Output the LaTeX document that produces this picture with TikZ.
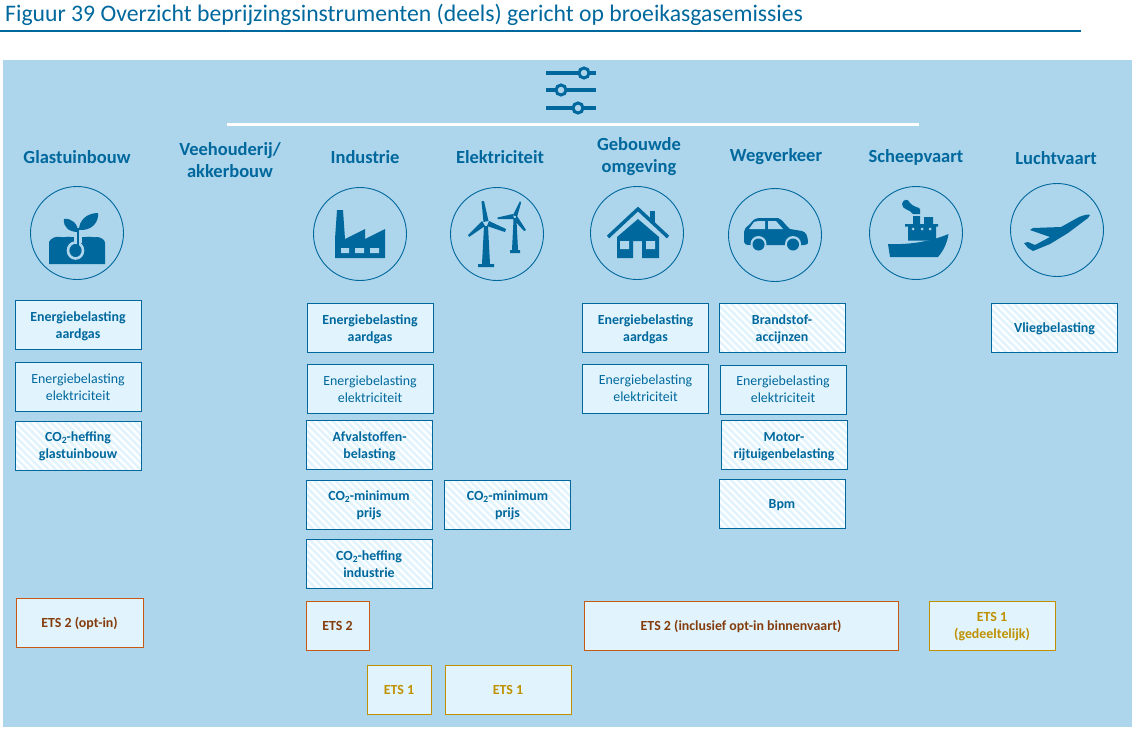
\documentclass[tikz,border=0pt]{standalone}
\usepackage{fontspec}
\setmainfont{Carlito}
\usetikzlibrary{patterns.meta}
\definecolor{PanelBlue}{RGB}{173, 213, 235}
\definecolor{DeepBlue}{RGB}{0, 104, 157}
\definecolor{PaleBlue}{RGB}{225, 244, 253}
\definecolor{RustLine}{RGB}{197, 90, 17}
\definecolor{RustText}{RGB}{132, 60, 12}
\definecolor{GoldLine}{RGB}{191, 144, 0}
\newcommand{\cotwo}{CO\raisebox{-0.3ex}{\fontsize{9.5}{9.5}\selectfont 2}}
\tikzset{
    every path/.style={line join=miter},
    sector/.style={text=DeepBlue, font=\bfseries\fontsize{18.5}{22.5}\selectfont, align=center},
    ring/.style={circle, draw=DeepBlue, line width=0.9pt, minimum size=93pt, inner sep=0pt},
    icon/.style={fill=DeepBlue, draw=none},
    gap/.style={fill=PanelBlue, draw=none},
    plainbox/.style={draw=DeepBlue, line width=0.9pt, fill=PaleBlue, text=DeepBlue, align=center, inner sep=0pt, minimum width=126pt, minimum height=49pt, text depth=-1pt, font=\bfseries\fontsize{13.9}{17}\selectfont},
    lightbox/.style={plainbox, font=\fontsize{13.9}{17}\selectfont},
    hatchbox/.style={plainbox, fill=none, preaction={fill=white}, pattern={Lines[angle=-45, distance=5pt, line width=2.6pt]}, pattern color=PaleBlue},
    rustbox/.style={plainbox, draw=RustLine, text=RustText},
    goldbox/.style={plainbox, draw=GoldLine, text=GoldLine}
}
\begin{document}
\begin{tikzpicture}[x=1pt, y=-1pt]
    \useasboundingbox (0,0) rectangle (1132,732);
    % heading
    \node [anchor=west, inner sep=0pt, text=DeepBlue, font=\fontsize{23.7}{27}\selectfont] (title) at (5,15) {Figuur 39 Overzicht beprijzingsinstrumenten (deels) gericht op broeikasgasemissies};
    \draw [DeepBlue, line width=2pt] (0,31) -- (1081,31);
    \fill [PanelBlue] (3,60) rectangle (1132,727);

    % sliders
    \draw [DeepBlue, line width=3.5pt] (546,73) -- (596,73) (546,90) -- (596,90) (546,108) -- (596,108);
    \draw [DeepBlue, line width=3pt, fill=PanelBlue] (584,73) circle (5pt) (561,90) circle (5pt) (578,108) circle (5pt);
    \draw [white, line width=2.5pt] (227,124.5) -- (919,124.5);

    % sector names
    \node [sector] (glas) at (77,157) {Glastuinbouw};
    \node [sector] (vee) at (230,160) {Veehouderij/\\akkerbouw};
    \node [sector] (industrie) at (365,157) {Industrie};
    \node [sector] (elek) at (500,157) {Elektriciteit};
    \node [sector] (gebouw) at (639,156.5) {Gebouwde\\omgeving};
    \node [sector] (weg) at (776,157) {Wegverkeer};
    \node [sector] (schip) at (916,157) {Scheepvaart};
    \node [sector] (lucht) at (1056,158) {Luchtvaart};

    % rings
    \node [ring] (glasring) at (77,233) {};
    \node [ring] (industriering) at (360,234) {};
    \node [ring] (elekring) at (497,234) {};
    \node [ring] (gebouwring) at (637,233) {};
    \node [ring] (wegring) at (775,235) {};
    \node [ring] (schipring) at (916,233) {};
    \node [ring] (luchtring) at (1057,230) {};

    % plant
    \fill [icon] (49,264) -- (49,242) .. controls (51,238) and (56,236) .. (60,237) .. controls (64,238) and (68,236) .. (71,237) -- (85,237) .. controls (90,236) and (94,238) .. (98,237) .. controls (102,238) and (105,240) .. (105,243) -- (105,264) -- cycle;
    \draw [PanelBlue, line width=8pt] (78,233) -- (78,243);
    \draw [PanelBlue, line width=2.6pt] (75.5,250.5) ellipse (7.5pt and 8pt);
    \draw [DeepBlue, line width=2.6pt] (78,228) -- (78,247);
    \fill [icon] (64,219) .. controls (72,218) and (78,224) .. (78,232) .. controls (70,232) and (63,228) .. (64,219) -- cycle;
    \fill [icon] (98,213) .. controls (99,222) and (92,231) .. (79,230) .. controls (79,221) and (86,213) .. (98,213) -- cycle;

    % factory
    \fill [icon] (335,258) -- (335,239) -- (337,210) -- (343,210) -- (345,239) -- (365,229) -- (365,239) -- (385,229) -- (385,258) -- cycle;
    \fill [gap] (341,248) rectangle (349,253) (355,248) rectangle (364,253) (370,248) rectangle (379,253);

    % turbines
    \fill [icon] (484,226) -- (488,226) -- (490,264) -- (494,264) -- (494,267) -- (478,267) -- (478,264) -- (482,264) -- cycle;
    \fill [icon] (481.5,201) -- (484,201) -- (488.5,221) -- (483.5,222) -- cycle;
    \fill [icon] (506,229) -- (505,232) -- (487,226) -- (489,221) -- cycle;
    \fill [icon] (469,237) -- (468,235) -- (482,221) -- (485,226) -- cycle;
    \fill [PanelBlue] (486,223) circle (1.6pt);
    \fill [icon] (513.5,220) -- (516.5,220) -- (518,250) -- (520,250) -- (520,253) -- (510,253) -- (510,250) -- (512,250) -- cycle;
    \fill [icon] (520,201) -- (521,203) -- (517,217) -- (513,215) -- cycle;
    \fill [icon] (497.5,219) -- (497.5,217.5) -- (513,214) -- (514,219) -- cycle;
    \fill [icon] (526,230) -- (524,231) -- (513,219) -- (517,216) -- cycle;
    \fill [PanelBlue] (515,217) circle (1.2pt);

    % house
    \draw [DeepBlue, line width=3.5pt] (608,237) -- (638,209) -- (668,237);
    \fill [icon] (649.5,211) rectangle (655,222);
    \fill [icon] (638,219) -- (659,237) -- (659,258) -- (642,258) -- (642,241) -- (633,241) -- (633,258) -- (617,258) -- (617,237) -- cycle;
    \fill [gap] (620,241) rectangle (629,249) (646,241) rectangle (655,249);

    % car
    \fill [icon] (744,242) -- (744,232) .. controls (745,227) and (748,226) .. (750,224) .. controls (753,220) and (755,218) .. (760,218) -- (778,218) .. controls (782,219) and (786,226) .. (790,229) -- (802,231) .. controls (806,232) and (808,236) .. (808,243) .. controls (808,244) and (806,245) .. (804,245) -- (750,245) .. controls (746,245) and (744,244) .. (744,242) -- cycle;
    \fill [gap] (749,229) -- (754,222) .. controls (756,221) and (760,221) .. (765,221) -- (765,229) -- cycle (768,221) -- (776,221) -- (783,229) -- (768,229) -- cycle;
    \fill [gap] (758.5,244) circle (8pt) (793,244) circle (8pt);
    \fill [icon] (758.5,244.5) circle (6pt) (793,244.5) circle (6pt);

    % ship
    \fill [icon] (888,244) .. controls (910,245) and (932,241) .. (948.5,234) .. controls (947,244) and (943,251) .. (938,257) -- (890,257) -- cycle;
    \fill [icon] (908,226) rectangle (936,240.5) (905,224) rectangle (938,226.5) (913,216) rectangle (920,224) (924,217) rectangle (933,224);
    \fill [icon] (902,204) .. controls (903,199) and (908,198) .. (910,203) .. controls (913,207) and (919,207) .. (920,209) -- (920,214) -- (913,214) .. controls (910,209) and (902,210) .. (902,204) -- cycle;
    \fill [gap] (913,229) circle (1.5pt) (922,229) circle (1.5pt) (930,229) circle (1.5pt);

    % plane
    \fill [icon] (1090,215) -- (1088,218) -- (1068,233) -- (1050,244) -- (1033,251) -- (1028,248) -- (1024,243) -- (1028,242) -- (1035,245) -- (1050,237) -- (1030,230) -- (1033,228) -- (1061,227) -- (1079,217) .. controls (1084,215) and (1088,214) .. (1090,215) -- cycle;

    % instruments
    \node [plainbox] (glasgas) at (78,325) {Energiebelasting\\aardgas};
    \node [lightbox] (glasstroom) at (78,387) {Energiebelasting\\elektriciteit};
    \node [hatchbox] (glasco) at (78,445.5) {\cotwo-heffing\\glastuinbouw};
    \node [plainbox] (indgas) at (370,328) {Energiebelasting\\aardgas};
    \node [lightbox] (indstroom) at (370,389) {Energiebelasting\\elektriciteit};
    \node [hatchbox] (indafval) at (369.5,445) {Afvalstoffen-\\belasting};
    \node [hatchbox] (indmin) at (369,504.5) {\cotwo-minimum\\prijs};
    \node [hatchbox] (indco) at (369,564) {\cotwo-heffing\\industrie};
    \node [hatchbox] (elekmin) at (507.5,504.5) {\cotwo-minimum\\prijs};
    \node [plainbox] (gebgas) at (645.5,328) {Energiebelasting\\aardgas};
    \node [lightbox] (gebstroom) at (645.5,388.5) {Energiebelasting\\elektriciteit};
    \node [hatchbox] (wegaccijns) at (782,328) {Brandstof-\\accijnzen};
    \node [lightbox] (wegstroom) at (783,389.5) {Energiebelasting\\elektriciteit};
    \node [hatchbox] (wegmotor) at (784,445) {Motor-\\rijtuigenbelasting};
    \node [hatchbox] (wegbpm) at (782,503.5) {Bpm};
    \node [hatchbox] (vlieg) at (1054.5,327.5) {Vliegbelasting};

    % trading systems
    \node [rustbox, minimum width=127pt] (etsglas) at (79.5,622.5) {ETS 2 (opt-in)};
    \node [rustbox, minimum width=63pt] (etsind) at (337.5,625.5) {ETS 2};
    \node [rustbox, minimum width=314pt] (etsgeb) at (741,625.5) {ETS 2 (inclusief opt-in binnenvaart)};
    \node [goldbox] (etslucht) at (992,625.5) {ETS 1\\(gedeeltelijk)};
    \node [goldbox, minimum width=64pt] (etsindb) at (399,689.5) {ETS 1};
    \node [goldbox] (etselek) at (508,689.5) {ETS 1};
\end{tikzpicture}
\end{document}
